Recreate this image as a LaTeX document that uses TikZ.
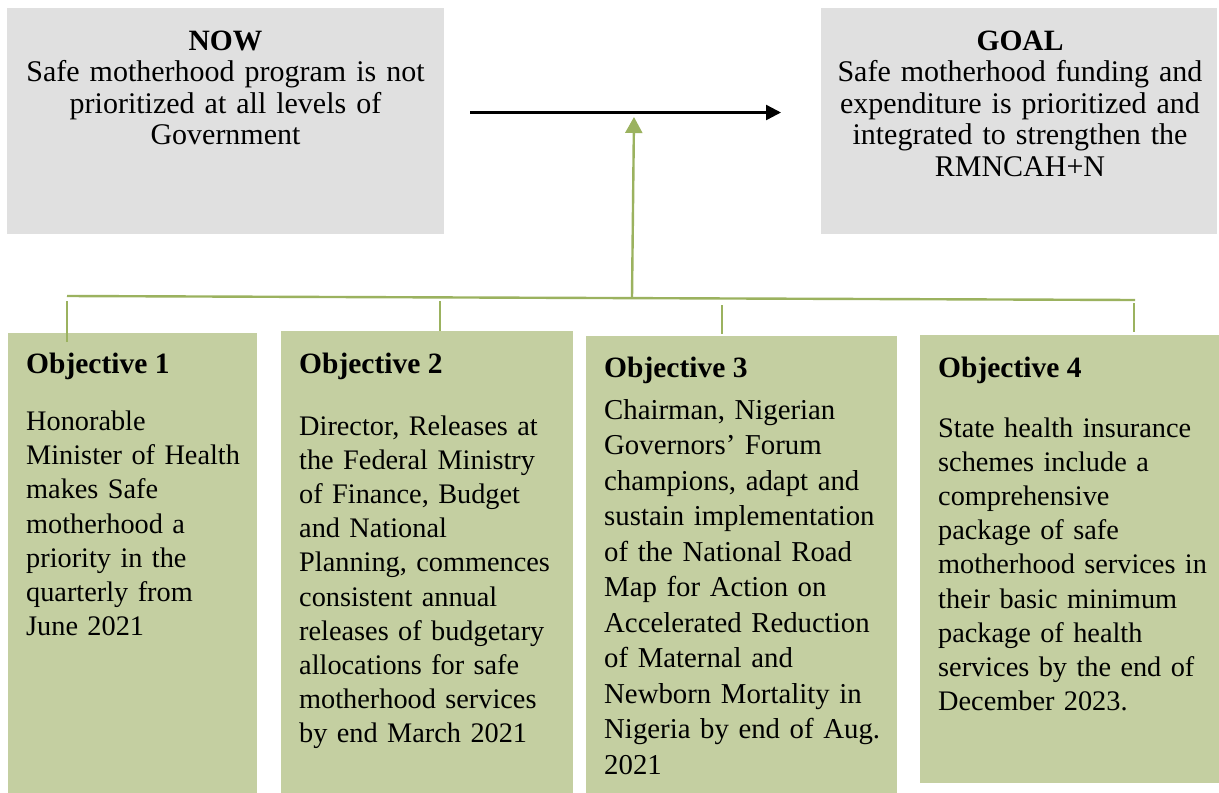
\documentclass[tikz,border=0pt]{standalone}
\usepackage{fontspec}
\setmainfont{Liberation Serif}
\usetikzlibrary{arrows.meta}

\definecolor{boxgray}{HTML}{E0E0E0}
\definecolor{objfill}{HTML}{C4CFA1}
\definecolor{branch}{HTML}{9BB25F}

\tikzset{
  panel/.style={draw=none, inner sep=0pt, outer sep=0pt, anchor=north west},
  statebox/.style={panel, fill=boxgray},
  objbox/.style={panel, fill=objfill},
  headtext/.style={anchor=base, align=center, text width=430pt, inner sep=0pt,
    font=\fontsize{30}{31.4}\selectfont},
  objhead/.style={anchor=base west, inner sep=0pt,
    font=\fontsize{29.5}{34}\selectfont\bfseries},
  objbody/.style={anchor=base west, align=left, text width=320pt, inner sep=0pt,
    font=\fontsize{28.3}{34.2}\selectfont},
  branchline/.style={draw=branch, line width=2.4pt},
  tick/.style={draw=branch, line width=1.6pt},
}

\begin{document}
\begin{tikzpicture}[x=1pt, y=-1pt]
\useasboundingbox (0,0) rectangle (1219,793);

% current state and goal
\node[statebox, minimum width=437pt, minimum height=226pt] (now) at (7,8) {};
\node[statebox, minimum width=396pt, minimum height=226pt] (goal) at (821,8) {};

\node[headtext] (nowtext) at (225.5,50.5)
  {{\bfseries\fontsize{29.5}{31.4}\selectfont NOW}\\
   Safe motherhood program is not\\
   prioritized at all levels of\\
   Government};
\node[headtext] (goaltext) at (1020,50.5)
  {{\bfseries\fontsize{29.5}{31.4}\selectfont GOAL}\\
   Safe motherhood funding and\\
   expenditure is prioritized and\\
   integrated to strengthen the\\
   RMNCAH+N};

% the four objectives
\node[objbox, minimum width=249pt, minimum height=460pt] (obj1) at (8,333) {};
\node[objbox, minimum width=292pt, minimum height=462pt] (obj2) at (281,331) {};
\node[objbox, minimum width=311pt, minimum height=457pt] (obj3) at (586,336) {};
\node[objbox, minimum width=299pt, minimum height=448pt] (obj4) at (920,335) {};

\node[objhead] (h1) at (26,373) {Objective 1};
\node[objbody] (b1) at (26,430.5)
  {Honorable\\
   Minister of Health\\
   makes Safe\\
   motherhood a\\
   priority in the\\
   quarterly from\\
   June 2021};

\node[objhead] (h2) at (299,373) {Objective 2};
\node[objbody] (b2) at (299,435)
  {Director, Releases at\\
   the Federal Ministry\\
   of Finance, Budget\\
   and National\\
   Planning, commences\\
   consistent annual\\
   releases of budgetary\\
   allocations for safe\\
   motherhood services\\
   by end March 2021};

\node[objhead] (h3) at (604,377) {Objective 3};
\node[objbody, font=\fontsize{28.8}{35.5}\selectfont] (b3) at (604,419)
  {Chairman, Nigerian\\
   Governors’ Forum\\
   champions, adapt and\\
   sustain implementation\\
   of the National Road\\
   Map for Action on\\
   Accelerated Reduction\\
   of Maternal and\\
   Newborn Mortality in\\
   Nigeria by end of Aug.\\
   2021};

\node[objhead] (h4) at (938,377) {Objective 4};
\node[objbody] (b4) at (938,437)
  {State health insurance\\
   schemes include a\\
   comprehensive\\
   package of safe\\
   motherhood services in\\
   their basic minimum\\
   package of health\\
   services by the end of\\
   December 2023.};

% progression arrow from now to goal
\coordinate (start) at (470,112.5);
\coordinate (finish) at (781,112.5);
\draw[line width=2.4pt, -{Triangle[length=15pt, width=15pt]}] (start) -- (finish);

% branch collecting the objectives
\coordinate (busL) at (67,296);
\coordinate (busR) at (1135,300);
\coordinate (hub) at (632,297.5);
\coordinate (hubtip) at (634,117);
\draw[branchline] (busL) -- (busR);
\draw[branchline, -{Triangle[length=16pt, width=17pt]}] (hub) -- (hubtip);

\coordinate (t1) at (67,301);
\coordinate (t2) at (440,301);
\coordinate (t3) at (722,305);
\coordinate (t4) at (1134,303);
\draw[tick] (t1) -- (t1 |- 0,342);
\draw[tick] (t2) -- (t2 |- obj2.north);
\draw[tick] (t3) -- (t3 |- 0,334);
\draw[tick] (t4) -- (t4 |- 0,332);
\end{tikzpicture}
\end{document}
